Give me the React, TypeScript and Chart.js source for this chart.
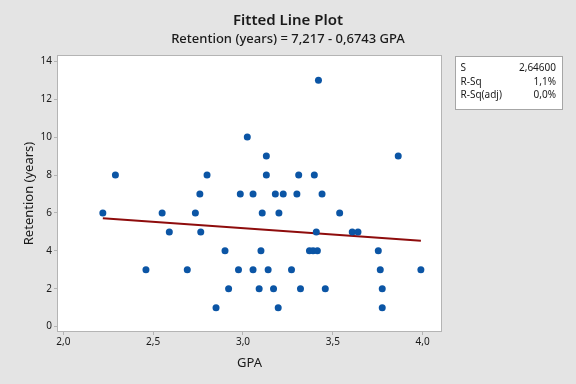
import React, { useEffect, useRef } from "react";
import { Chart, registerables } from "chart.js";

Chart.register(...registerables);

const gpa = [
  2.22, 2.29, 2.46, 2.55, 2.59, 2.69, 2.735, 2.76, 2.765, 2.8,
  2.85, 2.9, 2.92, 2.975, 2.985, 3.024, 3.056, 3.056, 3.09, 3.1,
  3.107, 3.13, 3.13, 3.14, 3.17, 3.18, 3.196, 3.2, 3.224, 3.27,
  3.3, 3.31, 3.32, 3.37, 3.39, 3.397, 3.408, 3.414, 3.42, 3.44,
  3.458, 3.538, 3.608, 3.64, 3.753, 3.764, 3.775, 3.775, 3.864, 3.99,
];
const retention = [
  6, 8, 3, 6, 5, 3, 6, 7, 5, 8,
  1, 4, 2, 3, 7, 10, 7, 3, 2, 4,
  6, 9, 8, 3, 2, 7, 1, 6, 7, 3,
  7, 8, 2, 4, 4, 8, 5, 4, 13, 7,
  2, 6, 5, 5, 4, 3, 2, 1, 9, 3,
];
const intercept = 7.217;
const slope = -0.6743;
const xTicks = [2.0, 2.5, 3.0, 3.5, 4.0];
const yTicks = [0, 2, 4, 6, 8, 10, 12, 14];
const titleText = "Fitted Line Plot";
const subtitleText = "Retention (years) = 7,217 - 0,6743 GPA";
const statLabels = ["S", "R-Sq", "R-Sq(adj)"];
const statValues = ["2,64600", "1,1%", "0,0%"];

const FONT = "'Noto Sans', 'Open Sans', sans-serif";

export default function App() {
  const ref = useRef<HTMLCanvasElement | null>(null);
  useEffect(() => {
    const canvas = ref.current;
    if (!canvas) return;
    const xmin = Math.min(...gpa);
    const xmax = Math.max(...gpa);
    const fit = [
      { x: xmin, y: intercept + slope * xmin },
      { x: xmax, y: intercept + slope * xmax },
    ];
    const pts = gpa.map((g, i) => ({ x: g, y: retention[i] }));

    const decor = {
      id: "decor",
      beforeDraw(chart: any) {
        const { ctx, chartArea: a, width, height } = chart;
        ctx.save();
        ctx.fillStyle = "#e4e4e4";
        ctx.fillRect(0, 0, width, height);
        ctx.fillStyle = "#ffffff";
        ctx.fillRect(a.left, a.top, a.right - a.left, a.bottom - a.top);
        // titles
        ctx.fillStyle = "#1a1a1a";
        ctx.textAlign = "center";
        ctx.textBaseline = "middle";
        ctx.font = `600 15px ${FONT}`;
        ctx.fillText(titleText, 288, 21);
        ctx.font = `500 13px ${FONT}`;
        ctx.fillText(subtitleText, 288, 39.5);
        // stats box
        const bx = 455.5, by = 56.5, bw = 107, bh = 53;
        ctx.fillStyle = "#ffffff";
        ctx.fillRect(bx, by, bw, bh);
        ctx.strokeStyle = "#a6a6a6";
        ctx.lineWidth = 1;
        ctx.strokeRect(bx, by, bw, bh);
        ctx.fillStyle = "#1a1a1a";
        ctx.font = `10px ${FONT}`;
        statLabels.forEach((l, i) => {
          const yy = 68.5 + i * 13.5;
          ctx.textAlign = "left";
          ctx.fillText(l, 460.5, yy);
          ctx.textAlign = "right";
          ctx.fillText(statValues[i], 556, yy);
        });
        ctx.restore();
      },
      beforeDatasetsDraw(chart: any) {
        const { ctx, chartArea: a } = chart;
        ctx.save();
        ctx.strokeStyle = "#b4b4b4";
        ctx.lineWidth = 1;
        ctx.strokeRect(Math.round(a.left) - 0.5, Math.round(a.top) - 0.5, Math.round(a.right - a.left) + 1, Math.round(a.bottom - a.top) + 1);
        ctx.restore();
      },
    };

    const chart = new Chart(canvas, {
      type: "scatter",
      data: {
        datasets: [
          {
            type: "line",
            data: fit,
            borderColor: "#8e0c0c",
            borderWidth: 2,
            pointRadius: 0,
            fill: false,
            order: 1,
          } as any,
          {
            data: pts,
            backgroundColor: "#0b55a5",
            borderWidth: 0,
            pointRadius: 3.5,
            order: 0,
          },
        ],
      },
      options: {
        animation: false,
        responsive: false,
        maintainAspectRatio: false,
        layout: { padding: { top: 56, right: 135, bottom: 0, left: 0 } },
        plugins: { legend: { display: false }, tooltip: { enabled: false }, title: { display: false } },
        scales: {
          x: {
            type: "linear",
            min: 1.9705,
            max: 4.102,
            afterBuildTicks: (s: any) => {
              s.ticks = xTicks.map((v) => ({ value: v }));
            },
            afterFit: (s: any) => {
              s.height = 53;
            },
            ticks: {
              callback: (v: any) => Number(v).toFixed(1).replace(".", ","),
              font: { family: FONT, size: 10 },
              color: "#1a1a1a",
              padding: 1,
              maxRotation: 0,
            },
            grid: { drawOnChartArea: false, drawTicks: true, tickLength: 4, tickColor: "#b4b4b4" },
            border: { display: false },
            title: {
              display: true,
              text: "GPA",
              font: { family: FONT, size: 13 },
              color: "#1a1a1a",
              padding: { top: 0, bottom: 13 },
            },
          },
          y: {
            type: "linear",
            min: -0.23,
            max: 14.28,
            afterBuildTicks: (s: any) => {
              s.ticks = yTicks.map((v) => ({ value: v }));
            },
            afterFit: (s: any) => {
              s.width = 58;
            },
            ticks: {
              font: { family: FONT, size: 10 },
              color: "#1a1a1a",
              padding: 2,
            },
            grid: { drawOnChartArea: false, drawTicks: true, tickLength: 4, tickColor: "#b4b4b4" },
            border: { display: false },
            title: {
              display: true,
              text: "Retention (years)",
              font: { family: FONT, size: 13 },
              color: "#1a1a1a",
              padding: { top: 21, bottom: 0 },
            },
          },
        },
      },
      plugins: [decor],
    });
    return () => chart.destroy();
  }, []);

  return (
    <div style={{ position: "fixed", left: 0, top: 0, width: 576, height: 384 }}>
      <canvas ref={ref} width={576} height={384} style={{ display: "block", width: 576, height: 384 }} />
    </div>
  );
}
